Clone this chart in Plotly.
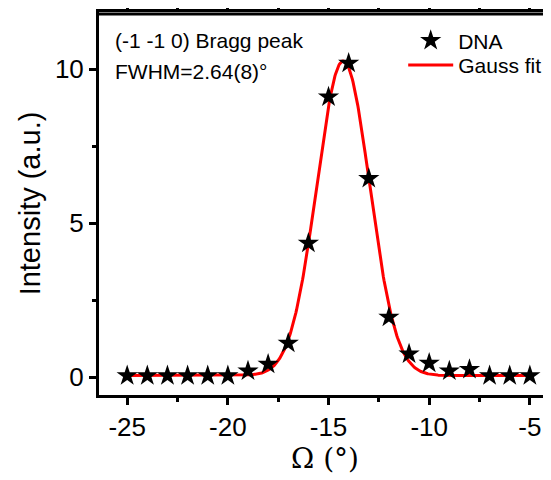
import numpy as np
import plotly.graph_objects as go

omega = [-25, -24, -23, -22, -21, -20, -19, -18, -17, -16, -15, -14, -13, -12, -11, -10, -9, -8, -7, -6, -5]
intensity = [0.05, 0.05, 0.05, 0.05, 0.05, 0.05, 0.2, 0.42, 1.1, 4.35, 9.1, 10.2, 6.45, 1.95, 0.75, 0.45, 0.2, 0.25, 0.05, 0.05, 0.05]
x_ticks = [-25, -20, -15, -10, -5]
x_ticktext = ["-25", "-20", "-15", "-10", "-5"]
y_ticks = [0, 5, 10]
y_ticktext = ["0", "5", "10"]

# Gauss fit parameters
fit_center = -14.27
fit_amp = 10.22
fit_sigma = 1.31
fit_base = 0.05

xf = np.linspace(-25, -5, 600)
yf = fit_base + fit_amp * np.exp(-(xf - fit_center) ** 2 / (2 * fit_sigma ** 2))

FONT = "Liberation Sans, Arial, sans-serif"

fig = go.Figure()
fig.add_trace(go.Scatter(x=xf, y=yf, mode="lines", name="Gauss fit", showlegend=True,
                         line=dict(color="#ff0000", width=3), legend="legend2"))
fig.add_trace(go.Scatter(x=omega, y=intensity, mode="markers", name="DNA", showlegend=True,
                         marker=dict(symbol="star", size=16, color="black", line=dict(width=0)),
                         legend="legend"))

fig.add_annotation(xref="paper", yref="paper", x=0.031, y=0.925, xanchor="left", yanchor="middle",
                   text="(-1 -1 0) Bragg peak", showarrow=False,
                   font=dict(family=FONT, size=21, color="black"))
fig.add_annotation(xref="paper", yref="paper", x=0.031, y=0.845, xanchor="left", yanchor="middle",
                   text="FWHM=2.64(8)°", showarrow=False,
                   font=dict(family=FONT, size=21, color="black"))

# top frame line
fig.add_shape(type="line", xref="paper", yref="paper", x0=0, x1=1, y0=0.995, y1=0.995,
              line=dict(color="black", width=3), layer="above")

legfont = dict(family=FONT, size=21, color="black")
fig.update_layout(
    width=551, height=480,
    margin=dict(l=91, r=8, t=4, b=93),
    showlegend=True,
    paper_bgcolor="white", plot_bgcolor="white",
    font=dict(family=FONT, color="black"),
    legend=dict(x=0.673, y=0.925, xanchor="left", yanchor="middle", font=legfont,
                bgcolor="rgba(0,0,0,0)", itemwidth=45, visible=True),
    legend2=dict(x=0.673, y=0.861, xanchor="left", yanchor="middle", font=legfont,
                 bgcolor="rgba(0,0,0,0)", itemwidth=45, visible=True),
    xaxis=dict(range=[-26.4, -3.95], tickvals=x_ticks, ticktext=x_ticktext, automargin=False,
               ticks="outside", ticklen=7, tickwidth=3, tickcolor="black",
               showline=True, linewidth=3, linecolor="black", mirror="all",
               showgrid=False, zeroline=False,
               tickfont=dict(family=FONT, size=26),
               minor=dict(tickvals=[-22.5, -17.5, -12.5, -7.5], ticks="outside", ticklen=4, tickwidth=3, tickcolor="black"),
               title=dict(text="Ω (°)", font=dict(family="DejaVu Serif, serif", size=28), standoff=8)),
    yaxis=dict(range=[-0.58, 11.86], tickvals=y_ticks, ticktext=y_ticktext, automargin=False,
               ticks="outside", ticklen=7, tickwidth=3, tickcolor="black",
               showline=True, linewidth=3, linecolor="black", mirror=False,
               showgrid=False, zeroline=False,
               tickfont=dict(family=FONT, size=26),
               minor=dict(tickvals=[2.5, 7.5], ticks="outside", ticklen=4, tickwidth=3, tickcolor="black"),
               title=dict(text="Intensity (a.u.)", font=dict(family=FONT, size=29), standoff=6)),
)

fig.write_html("out.html")
